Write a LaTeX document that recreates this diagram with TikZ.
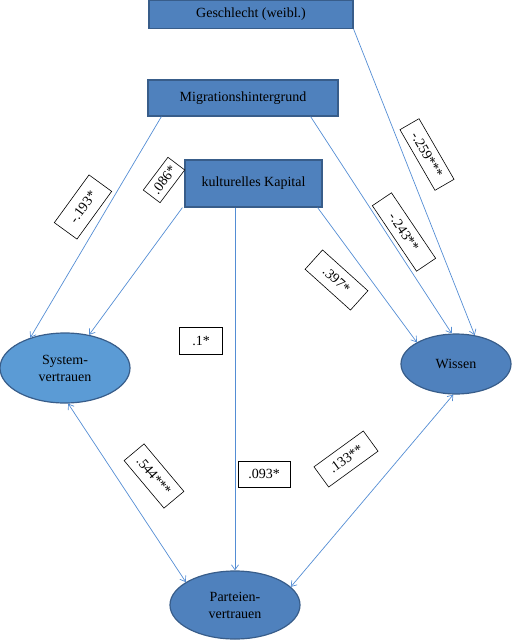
\documentclass[tikz,border=0pt]{standalone}
\usepackage{fontspec}
\setmainfont{Liberation Serif}
\tikzstyle{arrow} = [draw=line1, line width=0.7pt, -{Straight Barb[length=5pt,width=7pt]}]
\tikzstyle{both} = [draw=line1, line width=0.7pt, {Straight Barb[length=5pt,width=7pt]}-{Straight Barb[length=5pt,width=7pt]}]
\tikzstyle{var} = [rectangle, draw=border1, line width=1.2pt, fill=blue1, inner sep=0pt]
\tikzstyle{latent} = [ellipse, draw=border1, line width=1.2pt, fill=blue1, inner sep=0pt, align=center]
\tikzstyle{coef} = [rectangle, draw, fill=white, line width=0.6pt, inner sep=0pt, minimum height=24pt]
\definecolor{blue1}{RGB}{79,129,189}
\definecolor{blue2}{RGB}{91,155,213}
\definecolor{border1}{RGB}{56,93,138}
\definecolor{line1}{RGB}{84,141,212}
\usetikzlibrary{shapes.geometric,arrows.meta,positioning}

\begin{document}
\begin{tikzpicture}[x=1pt, y=-1pt, font=\fontsize{14}{17}\selectfont]
    \useasboundingbox (0,0) rectangle (512,640);

    % variables
    \node [var, minimum width=204pt, minimum height=28pt] (gesch) at (251,14.5) {Geschlecht (weibl.)};
    \node [var, minimum width=190pt, minimum height=36pt] (migr) at (243,98) {Migrationshintergrund};
    \node [var, minimum width=137pt, minimum height=47pt] (kult) at (253.5,183.5) {kulturelles Kapital};

    % latent
    \node [latent, fill=blue2, minimum width=130pt, minimum height=70pt] (sys) at (65,368) {System-\\vertrauen};
    \node [latent, minimum width=110pt, minimum height=60pt] (wissen) at (456,364) {Wissen};
    \node [latent, minimum width=130pt, minimum height=68pt] (partei) at (235,605) {Parteien-\\vertrauen};

    % paths
    \draw [arrow] (gesch.south east) -- (wissen.57);
    \draw [arrow] ([xshift=14pt]migr.south west) -- (sys.139);
    \draw [arrow] ([xshift=-28pt]migr.south east) -- (wissen.98);
    \draw [arrow] ([xshift=-2pt]kult.south west) -- (sys.54);
    \draw [arrow] ([xshift=-5pt]kult.south east) -- (wissen.151);
    \draw [arrow] (kult.south -| partei.north) -- (partei.north);
    \draw [both] (sys.275) -- (partei.155);
    \draw [both] (wissen.265) -- (partei.18);

    % coefficients
    \node [coef, rotate=-60, minimum width=70pt, minimum height=22pt] (c1) at (427,154.5) {-.259***};
    \node [coef, rotate=54, minimum width=59pt, minimum height=28pt] (c2) at (83,207) {-.193*};
    \node [coef, rotate=53, minimum width=41pt, minimum height=21pt] (c3) at (164,180) {.086*};
    \node [coef, rotate=-56, minimum width=79pt, minimum height=23pt] (c4) at (404,232) {-.243**};
    \node [coef, rotate=-42, minimum width=61pt, minimum height=26pt] (c5) at (336.5,280) {.397*};
    \node [coef, minimum width=43pt, minimum height=27pt] (c6) at (201,341) {.1*};
    \node [coef, minimum width=52pt, minimum height=26pt] (c7) at (264,474) {.093*};
    \node [coef, rotate=-50, minimum width=62pt, minimum height=26pt] (c8) at (154,476) {.544***};
    \node [coef, rotate=36, minimum width=61pt, minimum height=25pt] (c9) at (346,459) {.133**};
\end{tikzpicture}
\end{document}
